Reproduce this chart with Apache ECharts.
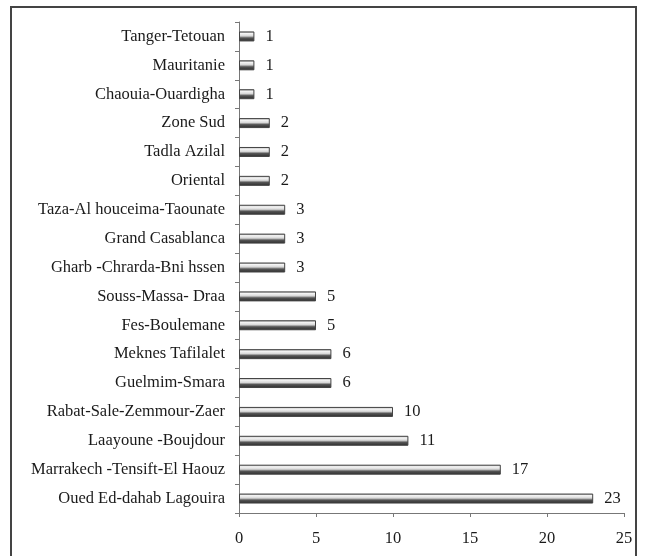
<!DOCTYPE html>
<html>
<head>
<meta charset="utf-8">
<script src="https://cdn.jsdelivr.net/npm/echarts@6/dist/echarts.min.js"></script>
<style>
  html, body { margin: 0; padding: 0; background: #fff; }
  #chart { width: 648px; height: 556px; }
</style>
</head>
<body>
<div id="chart"></div>
<script>
  // regions, top to bottom
  const regions = [
    'Tanger-Tetouan', 'Mauritanie', 'Chaouia-Ouardigha', 'Zone Sud', 'Tadla Azilal',
    'Oriental', 'Taza-Al houceima-Taounate', 'Grand Casablanca', 'Gharb -Chrarda-Bni hssen',
    'Souss-Massa- Draa', 'Fes-Boulemane', 'Meknes Tafilalet', 'Guelmim-Smara',
    'Rabat-Sale-Zemmour-Zaer', 'Laayoune -Boujdour', 'Marrakech -Tensift-El Haouz',
    'Oued Ed-dahab Lagouira'
  ];
  const counts = [1, 1, 1, 2, 2, 2, 3, 3, 3, 5, 5, 6, 6, 10, 11, 17, 23];
  const xTicks = [0, 5, 10, 15, 20, 25];

  const serif = '"Liberation Serif", "DejaVu Serif", serif';
  const chart = echarts.init(document.getElementById('chart'));

  chart.setOption({
    animation: false,
    graphic: [{
      type: 'rect',
      shape: { x: 11, y: 7, width: 625, height: 600 },
      style: { fill: 'none', stroke: '#444', lineWidth: 2 },
      silent: true
    }],
    grid: { left: 239, right: 24, top: 22, bottom: 43 },
    xAxis: {
      type: 'value',
      min: xTicks[0],
      max: xTicks[xTicks.length - 1],
      interval: 5,
      splitLine: { show: false },
      axisLine: { show: true, lineStyle: { color: '#777', width: 1 } },
      axisTick: { show: true, length: 4, lineStyle: { color: '#777' } },
      axisLabel: { color: '#1a1a1a', fontFamily: serif, fontSize: 16.5, margin: 17 }
    },
    yAxis: {
      type: 'category',
      inverse: true,
      data: regions,
      axisLine: { show: true, lineStyle: { color: '#777', width: 1 } },
      axisTick: { show: true, length: 4, lineStyle: { color: '#777' } },
      axisLabel: { color: '#1a1a1a', fontFamily: serif, fontSize: 16.5, margin: 14 }
    },
    series: [{
      type: 'bar',
      data: counts,
      barWidth: 10,
      itemStyle: {
        color: new echarts.graphic.LinearGradient(0, 0, 0, 1, [
          { offset: 0, color: '#888' },
          { offset: 0.2, color: '#f5f5f5' },
          { offset: 0.45, color: '#d8d8d8' },
          { offset: 0.65, color: '#555' },
          { offset: 1, color: '#2a2a2a' }
        ]),
        borderColor: '#444',
        borderWidth: 1
      },
      label: {
        show: true,
        position: 'right',
        distance: 11,
        color: '#1a1a1a',
        fontFamily: serif,
        fontSize: 16.5
      }
    }]
  });
</script>
</body>
</html>
